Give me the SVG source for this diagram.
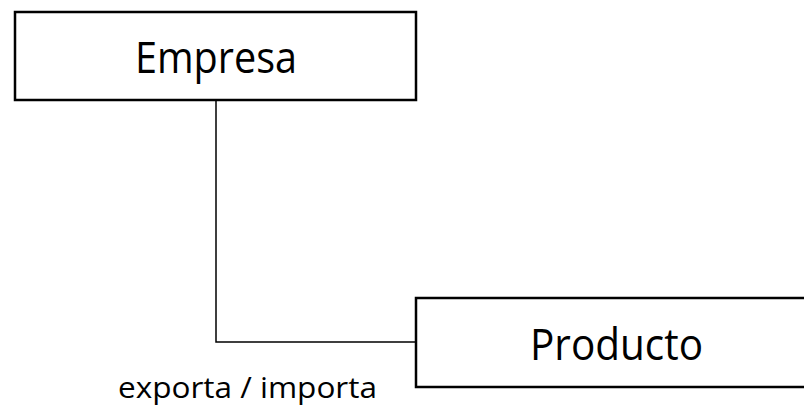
<svg xmlns="http://www.w3.org/2000/svg" width="804" height="407" viewBox="0 0 804 407">
<style>
.box{fill:#fff;stroke:#000;stroke-width:2.5}
.lbl{font-family:"Open Sans","Liberation Sans",sans-serif;fill:#000}
.con{fill:none;stroke:#000;stroke-width:1.5}
</style>
<rect width="804" height="407" fill="#fff"/>
<g id="connectors">
<polyline class="con" points="216,100 216,342 416,342"/>
<text class="lbl" x="118" y="398" font-size="30" textLength="259" lengthAdjust="spacingAndGlyphs">exporta / importa</text>
</g>
<g id="empresa">
<rect class="box" x="15" y="12" width="401" height="88"/>
<text class="lbl" x="135" y="73" font-size="43" textLength="162" lengthAdjust="spacingAndGlyphs">Empresa</text>
</g>
<g id="producto">
<rect class="box" x="416" y="298" width="400" height="89"/>
<text class="lbl" x="530" y="360" font-size="43" textLength="173" lengthAdjust="spacingAndGlyphs">Producto</text>
</g>
</svg>
